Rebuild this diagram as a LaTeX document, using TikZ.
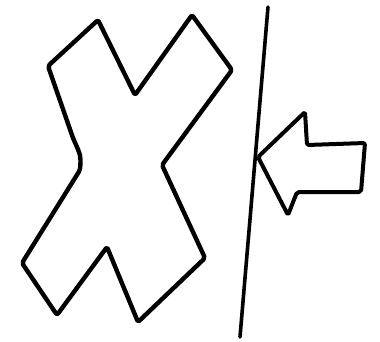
\documentclass[tikz,border=0pt]{standalone}
\usepackage{tikz}

\begin{document}
\begin{tikzpicture}[
  x=1pt, y=-1pt,
  outline/.style={draw, line width=4.4pt, line join=round, line cap=round, rounded corners=2pt},
  wall/.style={draw, line width=3.6pt, line cap=round},
]
  \useasboundingbox (0,0) rectangle (380,341);

  % X shape
  \draw[outline] (98,20) -- (135,95) -- (192,15) -- (232,70) -- (162,165)
    -- (205,258) -- (138,322) -- (107,247) -- (57,315) -- (22,263)
    -- (80,170) .. controls (81,156) .. (73,138) -- (48,66) -- cycle;

  % Wall
  \coordinate (wallTop) at (268,7);
  \coordinate (wallBot) at (240,337);
  \draw[wall] (wallTop) -- (wallBot);

  % Arrow
  \coordinate (tip) at (258,157);
  \draw[outline, line width=4pt] (tip) -- (305,112) -- (307,145) -- (365,143)
    -- (361,192) -- (297,192) -- (288,215) -- cycle;
\end{tikzpicture}
\end{document}
